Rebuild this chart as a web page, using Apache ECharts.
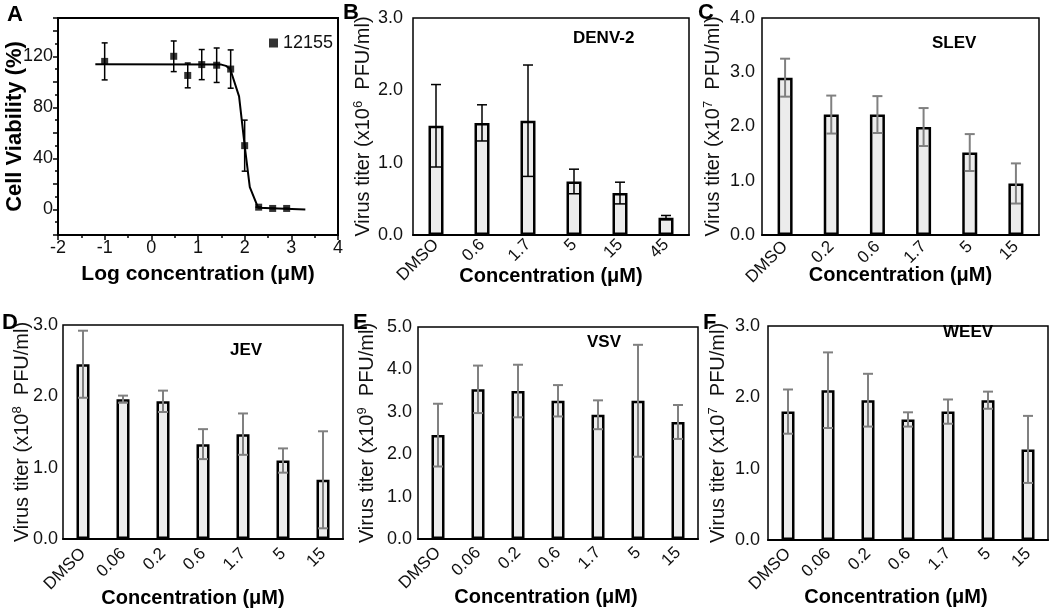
<!DOCTYPE html>
<html><head><meta charset="utf-8">
<script src="https://cdn.jsdelivr.net/npm/echarts@6/dist/echarts.min.js"></script>
<style>html,body{margin:0;padding:0;background:#fff}#c{width:1050px;height:613px}</style>
</head><body><div id="c"></div>
<script>
// ---------- Panel A data ----------
const logConcA = [-1, 0.48, 0.78, 1.08, 1.40, 1.70, 2.00, 2.30, 2.60, 2.90];
const viabilityA = [116, 120, 105, 113.5, 113, 110, 50, 1.8, 0.8, 0.8];
const viabilityErrA = [14.5, 12, 9.7, 11.8, 13.5, 15, 20, 0, 0, 0];
const fitXA = [-1.2, 1.5, 1.6, 1.69, 1.88, 2.0, 2.11, 2.29, 3.3];
const fitYA = [113.7, 113.5, 112.5, 110, 88.6, 50, 17.6, 1.3, 0];
const seriesNameA = '12155';

// ---------- Panel B (DENV-2) ----------
const catB = ['DMSO', '0.6', '1.7', '5', '15', '45'];
const valB = [1.51, 1.55, 1.58, 0.74, 0.58, 0.24];
const errB = [0.57, 0.25, 0.77, 0.17, 0.15, 0.03];

// ---------- Panel C (SLEV) ----------
const catC = ['DMSO', '0.2', '0.6', '1.7', '5', '15'];
const valC = [2.90, 2.22, 2.22, 1.99, 1.52, 0.95];
const errC = [0.35, 0.35, 0.34, 0.35, 0.34, 0.37];

// ---------- Panel D (JEV) ----------
const catD = ['DMSO', '0.06', '0.2', '0.6', '1.7', '5', '15'];
const valD = [2.45, 1.96, 1.93, 1.33, 1.47, 1.10, 0.83];
const errD = [0.47, 0.05, 0.15, 0.21, 0.29, 0.17, 0.68];

// ---------- Panel E (VSV) ----------
const catE = ['DMSO', '0.06', '0.2', '0.6', '1.7', '5', '15'];
const valE = [2.45, 3.53, 3.49, 3.26, 2.93, 3.26, 2.76];
const errE = [0.74, 0.56, 0.62, 0.37, 0.34, 1.32, 0.40];

// ---------- Panel F (WEEV) ----------
const catF = ['DMSO', '0.06', '0.2', '0.6', '1.7', '5', '15'];
const valF = [1.80, 2.10, 1.96, 1.69, 1.80, 1.96, 1.27];
const errF = [0.31, 0.53, 0.37, 0.10, 0.17, 0.12, 0.47];

const FONT = '"Liberation Sans", Arial, sans-serif';

function errRender(color, lw, cap) {
  return function (params, api) {
    const x = api.value(0), lo = api.value(1), hi = api.value(2);
    const a = api.coord([x, lo]), b = api.coord([x, hi]);
    const st = { stroke: color, lineWidth: lw };
    return { type: 'group', children: [
      { type: 'line', shape: { x1: a[0], y1: a[1], x2: b[0], y2: b[1] }, style: st },
      { type: 'line', shape: { x1: a[0] - cap, y1: a[1], x2: a[0] + cap, y2: a[1] }, style: st },
      { type: 'line', shape: { x1: b[0] - cap, y1: b[1], x2: b[0] + cap, y2: b[1] }, style: st }
    ]};
  };
}

const grids = [], xAxes = [], yAxes = [], series = [], titles = [];

// Panel A
grids.push({ left: 58, top: 18, width: 280, height: 217, show: true, borderColor: '#000', borderWidth: 2, backgroundColor: 'transparent' });
xAxes.push({ gridIndex: 0, type: 'value', min: -2, max: 4, interval: 1,
  axisLine: { onZero: false, lineStyle: { color: '#000', width: 2 } },
  axisTick: { length: 5, lineStyle: { color: '#000', width: 1.5 } },
  minorTick: { show: true, splitNumber: 2, length: 3, lineStyle: { color: '#000', width: 1.5 } },
  splitLine: { show: false },
  axisLabel: { fontSize: 18, color: '#111', margin: 4, fontFamily: FONT },
  name: 'Log concentration (\u03BCM)', nameLocation: 'middle', nameGap: 29, nameMoveOverlap: false,
  nameTextStyle: { fontSize: 21, fontWeight: 'bold', color: '#000', fontFamily: FONT } });
yAxes.push({ gridIndex: 0, type: 'value', min: -20, max: 150, interval: 20,
  axisLine: { onZero: false, lineStyle: { color: '#000', width: 2 } },
  axisTick: { length: 5, lineStyle: { color: '#000', width: 1.5 } },
  minorTick: { show: true, splitNumber: 2, length: 3, lineStyle: { color: '#000', width: 1.5 } },
  splitLine: { show: false },
  axisLabel: { fontSize: 18, color: '#111', margin: 5, fontFamily: FONT,
    formatter: v => (v % 40 === 0 ? String(v) : '') },
  name: 'Cell Viability (%)', nameLocation: 'middle', nameGap: 32, nameMoveOverlap: false,
  nameTextStyle: { fontSize: 22, fontWeight: 'bold', color: '#000', fontFamily: FONT } });
series.push({ type: 'line', xAxisIndex: 0, yAxisIndex: 0, data: fitXA.map((x, i) => [x, fitYA[i]]),
  showSymbol: false, symbol: 'none', lineStyle: { color: '#000', width: 2 }, silent: true, z: 2 });
series.push({ type: 'custom', xAxisIndex: 0, yAxisIndex: 0, z: 3,
  renderItem: errRender('#000', 1.5, 3), encode: { x: 0, y: [1, 2] },
  data: logConcA.map((x, i) => [x, viabilityA[i] - viabilityErrA[i], viabilityA[i] + viabilityErrA[i]]) });
series.push({ type: 'scatter', name: seriesNameA, xAxisIndex: 0, yAxisIndex: 0, z: 4,
  symbol: 'rect', symbolSize: 7, itemStyle: { color: '#000' },
  data: logConcA.map((x, i) => [x, viabilityA[i]]) });

// Bar panels
function barPanel(o) {
  const gi = grids.length;
  grids.push({ left: o.left, top: o.top, width: o.width, height: o.height, show: true, borderColor: '#000', borderWidth: 1.5, backgroundColor: 'transparent' });
  xAxes.push({ gridIndex: gi, type: 'category', data: o.cats,
    axisLine: { lineStyle: { color: '#000', width: 2 } },
    axisTick: { length: 5, lineStyle: { color: '#000', width: 1.5 } },
    axisLabel: { rotate: 45, interval: 0, fontSize: 17, margin: o.catMargin, color: '#111', fontFamily: FONT },
    name: 'Concentration (\u03BCM)', nameLocation: 'middle', nameGap: o.xNameGap, nameMoveOverlap: false,
    nameTextStyle: { fontSize: 20, fontWeight: 'bold', color: '#000', fontFamily: FONT, padding: o.xNamePad || 0 } });
  yAxes.push({ gridIndex: gi, type: 'value', min: 0, max: o.yMax, interval: 1,
    axisLine: { lineStyle: { color: '#000', width: 2 } },
    axisTick: { length: 5, lineStyle: { color: '#000', width: 1.5 } },
    splitLine: { show: false },
    axisLabel: { fontSize: 18, color: '#111', margin: o.labelMargin, fontFamily: FONT, formatter: v => v.toFixed(1) },
    name: '{a|Virus titer (x10}{s|' + o.exp + '}{a|  PFU/ml)}', nameLocation: 'middle', nameGap: o.yNameGap, nameMoveOverlap: false,
    nameTextStyle: { color: '#111', fontFamily: FONT, rich: {
      a: { fontSize: 20, fontFamily: FONT, color: '#111' },
      s: { fontSize: 13, fontFamily: FONT, color: '#111', padding: [0, 0, 10, 0] } } } });
  series.push({ type: 'bar', xAxisIndex: gi, yAxisIndex: gi, data: o.vals, barWidth: o.barW, z: 2,
    itemStyle: { color: '#ececec', borderColor: '#000', borderWidth: 2.5 } });
  series.push({ type: 'custom', xAxisIndex: gi, yAxisIndex: gi, z: 3,
    renderItem: errRender(o.errColor, o.errW, 5), encode: { x: 0, y: [1, 2] },
    data: o.vals.map((v, i) => [i, v - o.errs[i], v + o.errs[i]]) });
  titles.push({ text: o.virus, left: o.vx, top: o.vy, padding: 0,
    textStyle: { fontSize: 17, fontWeight: 'bold', color: '#000', fontFamily: FONT } });
}

barPanel({ left: 413, top: 18, width: 276, height: 217, cats: catB, vals: valB, errs: errB, yMax: 3, exp: '6',
  yNameGap: 38, labelMargin: 10, catMargin: 7, xNameGap: 31, barW: 15, errColor: '#000', errW: 1.5, virus: 'DENV-2', vx: 573, vy: 30 });
barPanel({ left: 762, top: 18, width: 277, height: 217, cats: catC, vals: valC, errs: errC, yMax: 4, exp: '7',
  yNameGap: 37, labelMargin: 7, catMargin: 9, xNameGap: 30, barW: 15, errColor: '#808080', errW: 2, virus: 'SLEV', vx: 932, vy: 35 });
barPanel({ left: 63, top: 325, width: 280, height: 214, cats: catD, vals: valD, errs: errD, yMax: 3, exp: '8',
  yNameGap: 29, labelMargin: 5, catMargin: 12, xNameGap: 49, xNamePad: [0, 20, 0, 0], barW: 13, errColor: '#808080', errW: 2, virus: 'JEV', vx: 230, vy: 342 });
barPanel({ left: 418, top: 327, width: 280, height: 212, cats: catE, vals: valE, errs: errE, yMax: 5, exp: '9',
  yNameGap: 39, labelMargin: 6, catMargin: 11, xNameGap: 48, xNamePad: [0, 24, 0, 0], barW: 13, errColor: '#808080', errW: 2, virus: 'VSV', vx: 587, vy: 334 });
barPanel({ left: 768, top: 326, width: 280, height: 214, cats: catF, vals: valF, errs: errF, yMax: 3, exp: '7',
  yNameGap: 38, labelMargin: 8, catMargin: 11, xNameGap: 47, xNamePad: [0, 24, 0, 0], barW: 13, errColor: '#808080', errW: 2, virus: 'WEEV', vx: 943, vy: 324 });

// Panel letters
const panelLetters = [['A', 7, 4], ['B', 343, 2], ['C', 698, 2], ['D', 2, 312], ['E', 353, 312], ['F', 703, 312]];
panelLetters.forEach(p => titles.push({ text: p[0], left: p[1], top: p[2], padding: 0,
  textStyle: { fontSize: 22, fontWeight: 'bold', color: '#000', fontFamily: FONT } }));

const chart = echarts.init(document.getElementById('c'), null, { renderer: 'canvas' });
chart.setOption({
  animation: false,
  backgroundColor: '#fff',
  textStyle: { fontFamily: FONT },
  title: titles,
  legend: { data: [seriesNameA], left: 264, top: 29, icon: 'rect', itemWidth: 9, itemHeight: 9, itemGap: 4,
    textStyle: { fontSize: 18, color: '#111', fontFamily: FONT } },
  grid: grids, xAxis: xAxes, yAxis: yAxes, series: series
});
</script></body></html>
